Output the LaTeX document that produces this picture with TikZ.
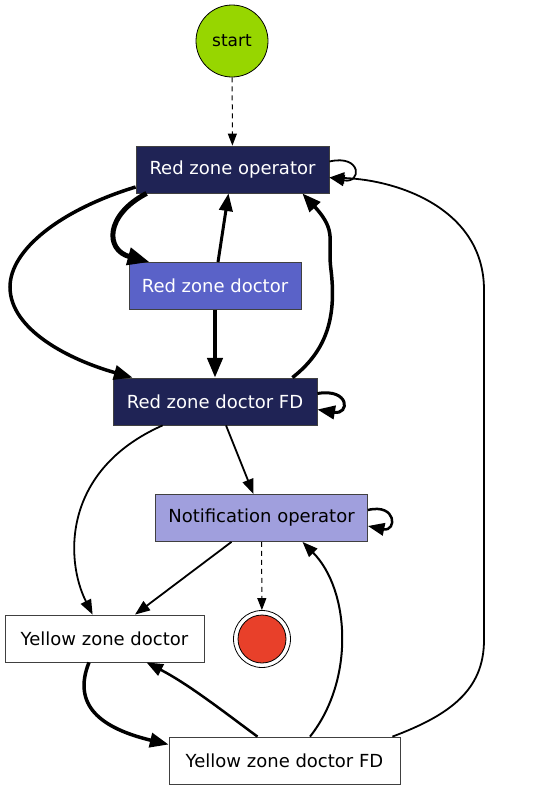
\documentclass[tikz,border=0pt]{standalone}
\usepackage{fontspec}
\setmainfont{DejaVu Sans}
\usetikzlibrary{arrows.meta}
\definecolor{navy}{RGB}{31,35,85}
\definecolor{rzdblue}{RGB}{90,98,200}
\definecolor{lilac}{RGB}{160,159,221}
\definecolor{lime}{RGB}{151,214,0}
\definecolor{stopred}{RGB}{232,64,42}
\tikzset{
  box/.style={draw=black!75, line width=0.8pt, minimum height=47pt, inner sep=0pt, font=\fontsize{18}{20}\selectfont},
  e/.style={line width=#1, -{Triangle[length=11pt 2.2, width=8pt 1.8]}},
  e/.default=1.8pt,
  dashedge/.style={line width=1pt, dash pattern=on 5pt off 4pt, -{Triangle[length=12pt, width=9pt]}}
}

\begin{document}
\begin{tikzpicture}[x=1pt,y=-1pt]
  \useasboundingbox (0,0) rectangle (545,790);
  \node[circle, draw, line width=0.8pt, fill=lime, minimum size=72pt, inner sep=0pt, font=\fontsize{17}{20}\selectfont] (start) at (232,41) {start};
  \node[box, fill=navy, text=white, minimum width=193pt] (rzo) at (232.5,169.5) {Red zone operator};
  \node[box, fill=rzdblue, text=white, minimum width=172pt] (rzd) at (215,286) {Red zone doctor};
  \node[box, fill=navy, text=white, minimum width=204pt] (rzdfd) at (215,401.5) {Red zone doctor FD};
  \node[box, fill=lilac, minimum width=212pt] (notif) at (261.5,518) {Notification operator};
  \node[box, fill=white, minimum width=199pt] (yzd) at (104.5,638.5) {Yellow zone doctor};
  \node[box, fill=white, minimum width=231pt] (yzdfd) at (284.5,760.5) {Yellow zone doctor FD};
  \node[circle, draw, line width=0.8pt, minimum size=57pt, inner sep=0pt] (stop) at (262,639) {};
  \draw[line width=0.8pt, fill=stopred] (stop.center) circle (24);

  \draw[dashedge] (start) -- (rzo);
  \draw[dashedge] (notif) -- (stop);
  \draw[e] ([yshift=8pt]rzo.east) .. controls (362,154) and (362,184) .. ([yshift=-8pt]rzo.east);
  \draw[e=5pt] ([xshift=11pt]rzo.south west) .. controls (105,215) and (105,250) .. ([xshift=21pt]rzd.north west);
  \draw[e=3pt] ([xshift=3pt]rzd.north) -- ([xshift=-4pt]rzo.south);
  \draw[e=3.5pt] ([yshift=-17.5pt]rzo.west) .. controls (60,210) and (10,250) .. (10,287) .. controls (10,330) and (70,360) .. ([xshift=20pt]rzdfd.north west);
  \draw[e=4pt] (rzd) -- (rzdfd);
  \draw[e=3.5pt] ([xshift=-25pt]rzdfd.north east) .. controls (325,352) and (337,320) .. (331,270) .. controls (327,240) and (338,232) .. ([xshift=-27pt]rzo.south east);
  \draw[e=3pt] ([yshift=8pt]rzdfd.east) .. controls (350,388) and (350,415) .. ([yshift=-8pt]rzdfd.east);
  \draw[e] ([xshift=50pt]rzdfd.south west) .. controls (62,470) and (65,560) .. ([xshift=88pt]yzd.north west);
  \draw[e] ([xshift=11pt]rzdfd.south) -- ([xshift=-8pt]notif.north);
  \draw[e=2.5pt] ([yshift=8pt]notif.east) .. controls (397,503) and (397,532) .. ([yshift=-8pt]notif.east);
  \draw[e] ([xshift=-30pt]notif.south) -- ([xshift=30.5pt]yzd.north);
  \draw[e=3.5pt] ([xshift=-15.5pt]yzd.south) .. controls (72,705) and (100,728) .. ([yshift=16pt]yzdfd.west);
  \draw[e=2.5pt] ([xshift=-27pt]yzdfd.north) .. controls (228,715) and (190,685) .. ([xshift=42pt]yzd.south);
  \draw[e=2pt] ([xshift=25.5pt]yzdfd.north) .. controls (355,680) and (350,590) .. ([xshift=41pt]notif.south);
  \draw[e] ([xshift=-8pt]yzdfd.north east) .. controls (450,715) and (484,690) .. (484,640) -- (484,290) .. controls (484,210) and (400,180) .. ([yshift=-8pt]rzo.east);
\end{tikzpicture}
\end{document}
